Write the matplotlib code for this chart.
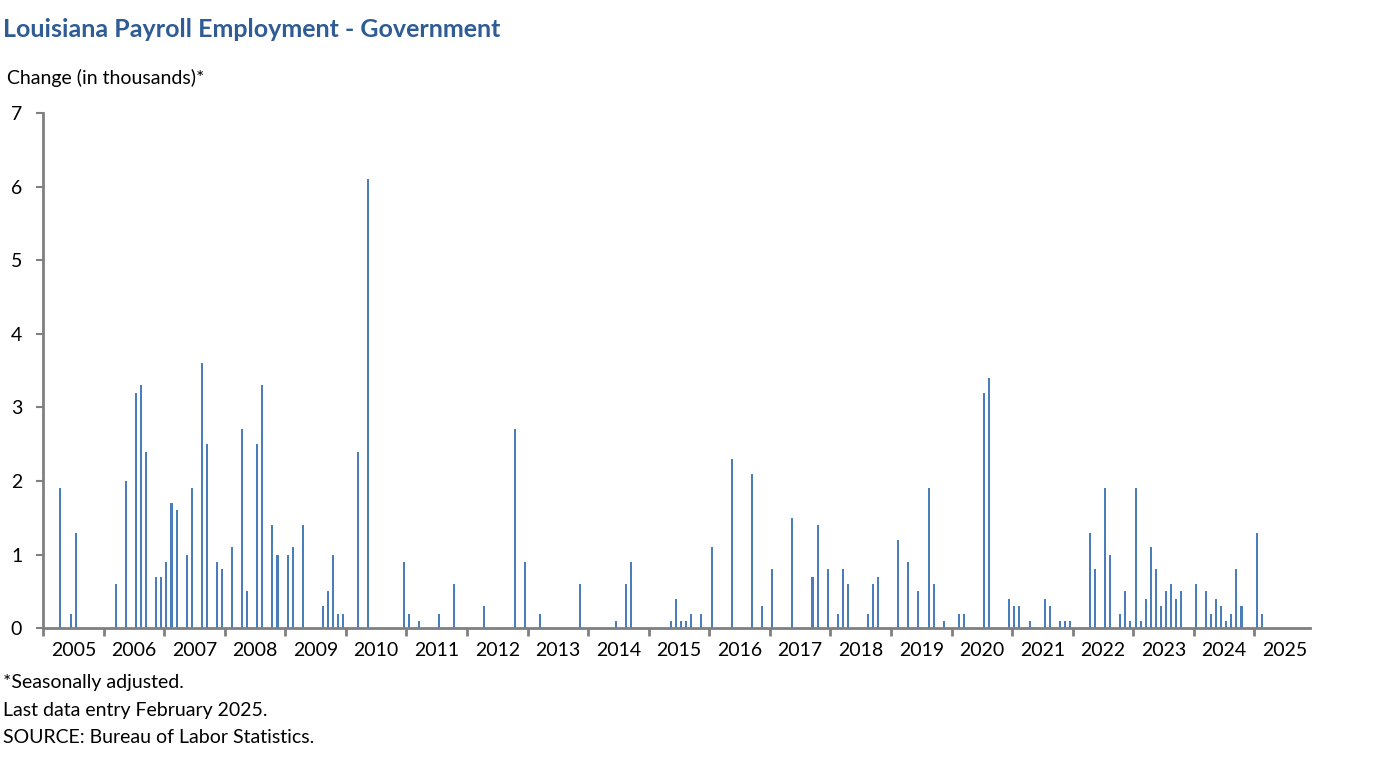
import matplotlib
matplotlib.use("Agg")
import matplotlib.pyplot as plt

# month index: 0 = Jan 2005, 241 = Feb 2025 (only positive changes are shown)
month_index = [3, 5, 6, 14, 16, 18, 19, 20, 22, 23, 24, 25, 26, 28, 29, 31, 32, 34, 35, 37,
               39, 40, 42, 43, 45, 46, 48, 49, 51, 55, 56, 57, 58, 59, 62, 64,
               71, 72, 74, 78, 81, 87, 93, 95, 98, 106, 113, 115, 116, 124,
               125, 126, 127, 128, 130, 132, 136, 140, 142, 144, 148, 152, 153, 155, 157, 158,
               159, 163, 164, 165, 169, 171, 173, 175, 176, 178, 181, 182,
               186, 187, 191, 192, 193, 195, 198, 199, 201, 202, 203, 207, 208, 210, 211,
               213, 214, 215, 216, 217, 218, 219, 220, 221, 222, 223, 224, 225, 228,
               230, 231, 232, 233, 234, 235, 236, 237, 240, 241]
change = [1.9, 0.2, 1.3, 0.6, 2.0, 3.2, 3.3, 2.4, 0.7, 0.7, 0.9, 1.7, 1.6, 1.0, 1.9, 3.6, 2.5, 0.9, 0.8, 1.1,
          2.7, 0.5, 2.5, 3.3, 1.4, 1.0, 1.0, 1.1, 1.4, 0.3, 0.5, 1.0, 0.2, 0.2, 2.4, 6.1,
          0.9, 0.2, 0.1, 0.2, 0.6, 0.3, 2.7, 0.9, 0.2, 0.6, 0.1, 0.6, 0.9, 0.1,
          0.4, 0.1, 0.1, 0.2, 0.2, 1.1, 2.3, 2.1, 0.3, 0.8, 1.5, 0.7, 1.4, 0.8, 0.2, 0.8,
          0.6, 0.2, 0.6, 0.7, 1.2, 0.9, 0.5, 1.9, 0.6, 0.1, 0.2, 0.2,
          3.2, 3.4, 0.4, 0.3, 0.3, 0.1, 0.4, 0.3, 0.1, 0.1, 0.1, 1.3, 0.8, 1.9, 1.0,
          0.2, 0.5, 0.1, 1.9, 0.1, 0.4, 1.1, 0.8, 0.3, 0.5, 0.6, 0.4, 0.5, 0.6,
          0.5, 0.2, 0.4, 0.3, 0.1, 0.2, 0.8, 0.3, 1.3, 0.2]
years = list(range(2005, 2026))

FONT = "Lato"
fig = plt.figure(figsize=(13.8, 7.68), dpi=100)
ax = fig.add_axes([0.0312, 0.182, 0.918, 0.671])

ax.bar([m + 0.25 for m in month_index], change, width=0.4, color="#4a7ebb", align="edge")

ax.set_ylim(0, 7)
ax.set_xlim(0, 251)
ax.set_yticks(range(0, 8))
ax.set_yticklabels([str(v) for v in range(0, 8)], fontsize=14, family=FONT)
ax.set_xticks([12 * k for k in range(len(years))])
ax.set_xticklabels([])
ax.set_xticks([12 * k + 6 for k in range(len(years))], minor=True)
ax.set_xticklabels([str(y) for y in years], minor=True, fontsize=14, family=FONT)
ax.tick_params(axis="x", which="minor", length=0, pad=10)
ax.tick_params(axis="x", which="major", length=6, width=2, color="#808080", direction="out")
ax.tick_params(axis="y", length=5, width=1.5, color="#808080", pad=10)
for side in ("top", "right"):
    ax.spines[side].set_visible(False)
for side in ("left", "bottom"):
    ax.spines[side].set_color("#808080")
    ax.spines[side].set_linewidth(2)

fig.text(0.002, 0.962, "Louisiana Payroll Employment - Government", fontsize=18,
         fontweight="bold", color="#2f5c94", family=FONT, va="center")
fig.text(0.005, 0.899, "Change (in thousands)*", fontsize=14, family=FONT, va="center")
for i, line in enumerate(["*Seasonally adjusted.", "Last data entry February 2025.",
                          "SOURCE: Bureau of Labor Statistics."]):
    fig.text(0.002, 0.111 - i * 0.0355, line, fontsize=14, family=FONT, va="center")

fig.savefig("out.png", dpi=100)
